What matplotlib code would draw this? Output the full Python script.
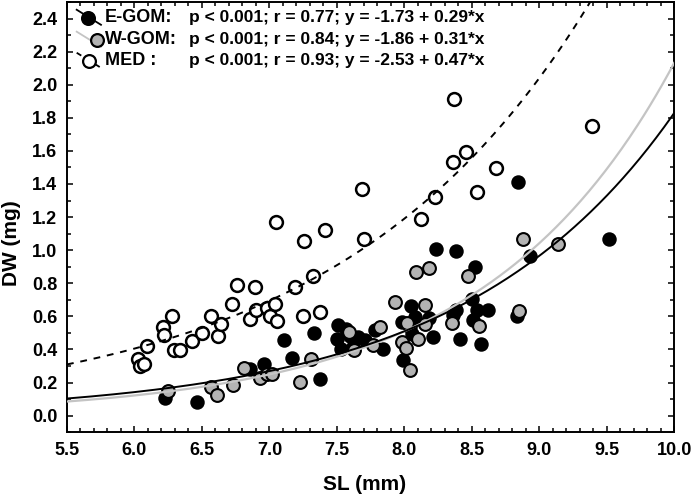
import numpy as np
import matplotlib
matplotlib.use("Agg")
import matplotlib.pyplot as plt
from matplotlib.ticker import MultipleLocator

plt.rcParams['font.family'] = ['Liberation Sans', 'DejaVu Sans']

# ---- data ----
# E-GOM (filled black)
e_sl = [6.23, 6.46, 6.86, 6.96, 7.11, 7.17, 7.33, 7.375, 7.51, 7.50, 7.53, 7.57,
        7.60, 7.62, 7.66, 7.71, 7.78, 7.845, 7.98, 7.99, 8.04, 8.05, 8.06, 8.08,
        8.18, 8.215, 8.235, 8.36, 8.38, 8.38, 8.41, 8.50, 8.51, 8.52, 8.54, 8.57,
        8.62, 8.835, 8.845, 8.93, 9.52]
e_dw = [0.107, 0.085, 0.28, 0.31, 0.455, 0.35, 0.50, 0.22, 0.545, 0.465, 0.40, 0.525,
        0.48, 0.415, 0.475, 0.455, 0.515, 0.405, 0.565, 0.333, 0.535, 0.66, 0.495, 0.595,
        0.59, 0.475, 1.004, 0.606, 0.636, 0.996, 0.46, 0.707, 0.58, 0.90, 0.636, 0.434,
        0.64, 0.60, 1.414, 0.965, 1.07]

# W-GOM (grey)
w_sl = [6.25, 6.57, 6.61, 6.73, 6.81, 6.93, 6.98, 7.02, 7.23, 7.31, 7.59, 7.63,
        7.77, 7.82, 7.93, 7.98, 8.01, 8.02, 8.04, 8.10, 8.15, 8.155, 8.09, 8.18,
        8.35, 8.47, 8.55, 8.85, 8.88, 9.14]
w_dw = [0.147, 0.17, 0.127, 0.185, 0.287, 0.23, 0.25, 0.25, 0.205, 0.343, 0.505, 0.395,
        0.428, 0.535, 0.687, 0.445, 0.41, 0.56, 0.273, 0.46, 0.67, 0.556, 0.87, 0.895,
        0.56, 0.845, 0.54, 0.63, 1.07, 1.04]

# MED (open)
m_sl = [6.03, 6.04, 6.07, 6.09, 6.21, 6.22, 6.28, 6.29, 6.34, 6.43, 6.50, 6.57,
        6.62, 6.64, 6.72, 6.76, 6.86, 6.89, 6.90, 6.98, 7.005, 7.04, 7.05, 7.055,
        7.19, 7.25, 7.26, 7.32, 7.375, 7.41, 7.685, 7.70, 8.125, 8.23, 8.36, 8.37,
        8.455, 8.54, 8.68, 9.39]
m_dw = [0.34, 0.30, 0.31, 0.42, 0.535, 0.49, 0.605, 0.395, 0.395, 0.45, 0.50, 0.605,
        0.48, 0.555, 0.675, 0.79, 0.585, 0.78, 0.64, 0.65, 0.605, 0.675, 1.17, 0.57,
        0.78, 0.60, 1.056, 0.845, 0.625, 1.12, 1.37, 1.07, 1.19, 1.32, 1.53, 1.915,
        1.596, 1.35, 1.495, 1.75]

# fitted curves, DW = exp(a + b*SL), coefficients estimated from the drawn lines
e_fit = (-5.786, 0.639)
w_fit = (-6.403, 0.716)
m_fit = (-4.138, 0.539)

labels = ['E-GOM:', 'W-GOM:', 'MED :']
stats = ['p < 0.001; r = 0.77; y = -1.73 + 0.29*x',
         'p < 0.001; r = 0.84; y = -1.86 + 0.31*x',
         'p < 0.001; r = 0.93; y = -2.53 + 0.47*x']

# ---- figure ----
fig = plt.figure(figsize=(6.94, 4.99), dpi=100)
ax = fig.add_axes([0.0965, 0.134, 0.875, 0.862])

ms = 85
ax.scatter(e_sl, e_dw, s=ms, c='black', edgecolors='black', linewidths=1.2, zorder=3)
ax.scatter(w_sl, w_dw, s=ms, c='#b3b3b3', edgecolors='black', linewidths=1.5, zorder=4)
ax.scatter(m_sl, m_dw, s=ms, c='white', edgecolors='black', linewidths=1.8, zorder=4)

xs = np.linspace(5.5, 10.0, 300)
ax.plot(xs, np.exp(w_fit[0] + w_fit[1] * xs), color='#c4c4c4', lw=1.6, zorder=5)
ax.plot(xs, np.exp(e_fit[0] + e_fit[1] * xs), color='black', lw=1.4, zorder=6)
ax.plot(xs, np.exp(m_fit[0] + m_fit[1] * xs), color='black', lw=1.4,
        ls=(0, (3.5, 3.5)), zorder=6)

ax.set_xlim(5.5, 10.0)
ax.set_ylim(-0.1, 2.5)
ax.xaxis.set_major_locator(MultipleLocator(0.5))
ax.xaxis.set_minor_locator(MultipleLocator(0.1))
ax.yaxis.set_major_locator(MultipleLocator(0.2))
ax.yaxis.set_minor_locator(MultipleLocator(0.1))
ax.set_xticks(np.arange(5.5, 10.01, 0.5))
ax.set_yticks(np.arange(0.0, 2.41, 0.2))
ax.xaxis.set_major_formatter(plt.FuncFormatter(lambda v, p: '%.1f' % v))
ax.yaxis.set_major_formatter(plt.FuncFormatter(lambda v, p: '%.1f' % v))
ax.tick_params(which='both', direction='in', top=True, right=True, width=1.1)
ax.tick_params(which='major', length=4, labelsize=13, pad=7)
ax.tick_params(which='minor', length=3)
for lab in ax.get_xticklabels() + ax.get_yticklabels():
    lab.set_fontweight('bold')
for sp in ax.spines.values():
    sp.set_linewidth(1.4)

ax.set_xlabel('SL (mm)', fontsize=15, fontweight='bold')
ax.set_ylabel('DW (mg)', fontsize=15, fontweight='bold')
ax.xaxis.set_label_coords(0.49, -0.1)
ax.yaxis.set_label_coords(-0.075, 0.44)

# hand-drawn legend in the STATISTICA style (diagonal line samples)
rows_y = [0.963, 0.912, 0.863]
mark_x = [0.035, 0.049, 0.037]
styles = [dict(fc='black', lc='black', ls='-'),
          dict(fc='#b3b3b3', lc='#c4c4c4', ls='-'),
          dict(fc='white', lc='black', ls=(0, (3, 3)))]
for y, mx, st, lab, txt in zip(rows_y, mark_x, styles, labels, stats):
    ax.plot([0.016, 0.056], [y + 0.019, y - 0.016], transform=ax.transAxes,
            color=st['lc'], lw=1.3, ls=st['ls'], zorder=7, clip_on=False)
    ax.scatter([mx], [y], s=ms, c=st['fc'], edgecolors='black', linewidths=1.6,
               transform=ax.transAxes, zorder=8, clip_on=False)
    ax.text(0.063, y, lab, transform=ax.transAxes, fontsize=13, fontweight='bold',
            va='center', ha='left', zorder=9)
    ax.text(0.201, y, txt, transform=ax.transAxes, fontsize=12.5, fontweight='bold',
            va='center', ha='left', zorder=9)

fig.savefig('out.png', dpi=100)
